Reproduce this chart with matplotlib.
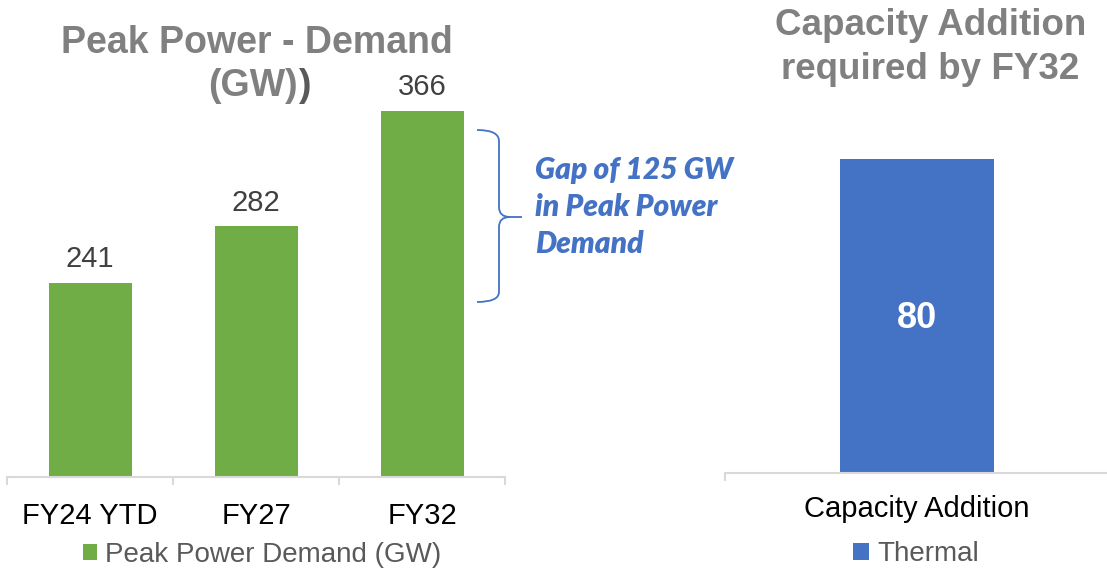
import matplotlib
matplotlib.use("Agg")
import matplotlib.pyplot as plt
from matplotlib.path import Path
from matplotlib.patches import PathPatch

# ---- data ----
demand_categories = ["FY24 YTD", "FY27", "FY32"]
demand_values = [241, 282, 366]
demand_series = "Peak Power Demand (GW)"

capacity_categories = ["Capacity Addition"]
capacity_values = [80]
capacity_series = "Thermal"

left_title = ["Peak Power - Demand", "(GW)", ")"]
right_title = ["Capacity Addition", "required by FY32"]
gap_note = ["Gap of 125 GW", "in Peak Power", "Demand"]

# ---- style ----
GREEN = "#70AD47"
BLUE = "#4472C4"
GRAY_TITLE = "#808080"
AXIS_GRAY = "#D9D9D9"
LABEL_GRAY = "#404040"
LEGEND_GRAY = "#595959"

W, H = 1107, 570
plt.rcParams["font.family"] = ["Liberation Sans", "DejaVu Sans"]
fig = plt.figure(figsize=(W / 100, H / 100), dpi=100)


def fx(px):
    return px / W


def fy(py):
    return 1 - py / H


def style_axis(ax, n, pad):
    for s in ["left", "right", "top"]:
        ax.spines[s].set_visible(False)
    ax.spines["bottom"].set_color(AXIS_GRAY)
    ax.spines["bottom"].set_linewidth(1.5)
    ax.set_yticks([])
    ax.set_xticks(range(n))
    ax.set_xticks([i - 0.5 for i in range(n + 1)], minor=True)
    ax.tick_params(axis="x", which="major", length=0, pad=pad, labelsize=21, labelcolor="black")
    ax.tick_params(axis="x", which="minor", length=5.8, width=1.5, color=AXIS_GRAY)
    ax.set_xlim(-0.5, n - 0.5)


# ---- left chart ----
axL = fig.add_axes([fx(7), 1 - 477 / H, 498 / W, (477 - 64) / H])
barsL = axL.bar(range(len(demand_values)), demand_values, width=0.5, bottom=0,
                color=GREEN, label=demand_series)
axL.set_ylim(100, 400)
style_axis(axL, len(demand_categories), 18)
axL.set_xticklabels(demand_categories)
axL.bar_label(barsL, labels=[str(v) for v in demand_values], padding=7,
               fontsize=21, color=LABEL_GRAY)
axL.legend(handles=[barsL], loc="center", bbox_to_anchor=(fx(262), fy(555)),
           bbox_transform=fig.transFigure, frameon=False, fontsize=20,
           labelcolor=LEGEND_GRAY, handlelength=0.5, handleheight=0.5,
           handletextpad=0.3, borderpad=0, borderaxespad=0)

# left title
fig.text(fx(257), fy(53), left_title[0], ha="center", va="baseline",
         fontsize=27, fontweight="bold", color=GRAY_TITLE)
t2 = fig.text(fx(253), fy(96), left_title[1], ha="center", va="baseline",
              fontsize=27, fontweight="bold", color=GRAY_TITLE)
axL.annotate(left_title[2], xy=(1, 0), xycoords=t2, ha="left", va="bottom",
             fontsize=27, fontweight="bold", color="#5A5A5A", annotation_clip=False)

# ---- right chart ----
axR = fig.add_axes([fx(725), 1 - 473 / H, 384 / W, 392.5 / H])
barsR = axR.bar(range(len(capacity_values)), capacity_values, width=0.4,
                color=BLUE, label=capacity_series)
axR.set_ylim(0, 100)
style_axis(axR, len(capacity_categories), 16)
axR.set_xticklabels(capacity_categories)
axR.bar_label(barsR, labels=[str(v) for v in capacity_values], label_type="center",
              fontsize=26, fontweight="bold", color="white", padding=-2)
axR.legend(handles=[barsR], loc="center", bbox_to_anchor=(fx(916), fy(554)),
           bbox_transform=fig.transFigure, frameon=False, fontsize=20,
           labelcolor=LEGEND_GRAY, handlelength=0.55, handleheight=0.55,
           handletextpad=0.3, borderpad=0, borderaxespad=0)

fig.text(fx(931), fy(35), right_title[0], ha="center", va="baseline",
         fontsize=26.5, fontweight="bold", color=GRAY_TITLE)
fig.text(fx(930), fy(79), right_title[1], ha="center", va="baseline",
         fontsize=26.5, fontweight="bold", color=GRAY_TITLE)

# ---- gap annotation (brace + text) ----
pts = [
    (477, 130), (499, 130), (499, 141),
    (499, 207),
    (499, 217), (510, 217),
    (522, 217),
    (510, 217),
    (499, 217), (499, 227),
    (499, 292),
    (499, 302), (477, 302),
]
codes = [Path.MOVETO, Path.CURVE3, Path.CURVE3, Path.LINETO,
         Path.CURVE3, Path.CURVE3, Path.LINETO, Path.MOVETO,
         Path.CURVE3, Path.CURVE3, Path.LINETO, Path.CURVE3, Path.CURVE3]
path = Path([(fx(x), fy(y)) for x, y in pts], codes)
fig.add_artist(PathPatch(path, transform=fig.transFigure, fill=False,
                         edgecolor=BLUE, linewidth=1.3))

for line, base in zip(gap_note, [179, 216, 253]):
    fig.text(fx(535), fy(base), line, ha="left", va="baseline",
             fontsize=21.5, fontweight="heavy", fontstyle="italic",
             color=BLUE, family=["Lato", "DejaVu Sans"])

fig.savefig("out.png", dpi=100)
